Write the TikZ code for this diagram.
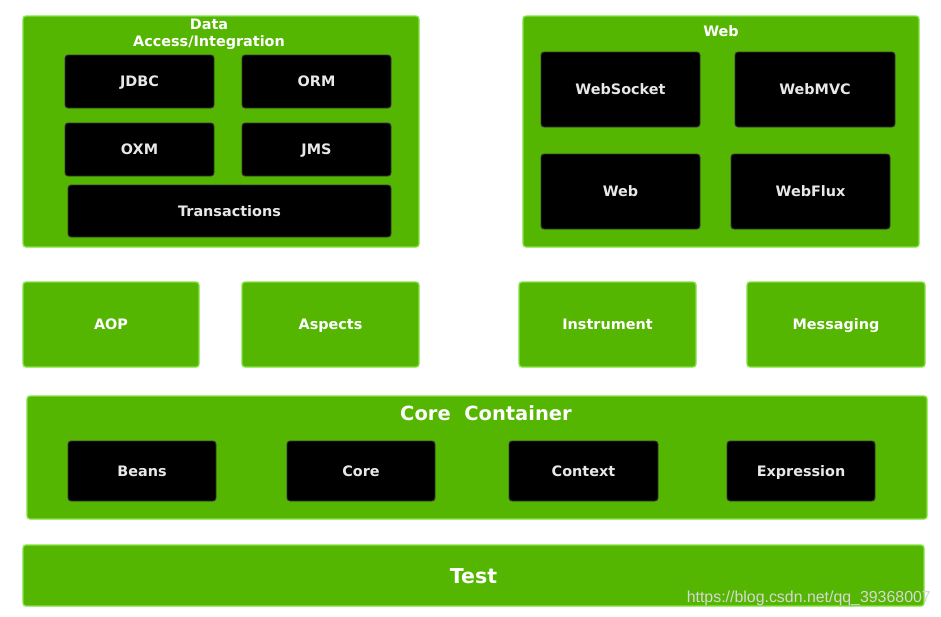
\documentclass[tikz,border=0pt]{standalone}
\usepackage{fontspec}
\setmainfont{DejaVu Sans}
\newfontfamily\wmfont{Liberation Sans}
\definecolor{sgreen}{RGB}{84,182,0}
\definecolor{sedge}{RGB}{132,228,70}
\definecolor{blkedge}{RGB}{55,55,55}
\definecolor{lbl}{RGB}{232,232,232}
\definecolor{wm}{RGB}{215,215,215}
\tikzset{
  grp/.style={draw=sedge, line width=1.3pt, fill=sgreen, rounded corners=3pt,
    anchor=north west, inner sep=0pt, outer sep=0pt, text=white,
    font=\fontsize{14.4}{17}\selectfont\bfseries, text height=10.5pt, text depth=0pt},
  blk/.style={draw=blkedge, line width=0.9pt, fill=black, rounded corners=3pt,
    anchor=north west, inner sep=0pt, outer sep=0pt, text=lbl,
    font=\fontsize{14.4}{17}\selectfont\bfseries, text height=10.5pt, text depth=0pt},
  gtitle/.style={text=white, inner sep=0pt, align=center,
    font=\fontsize{14.4}{17}\selectfont\bfseries},
}
\begin{document}
\begin{tikzpicture}[x=1pt,y=-1pt]
\useasboundingbox (0,0) rectangle (941,616);
\fill[white] (0,0) rectangle (941,616);

% Data Access/Integration
\node[grp, minimum width=396pt, minimum height=231pt] (dai) at (23,16) {};
\node[gtitle] (daititle) at (209,34.5) {Data\\Access/Integration};
\node[blk, minimum width=149pt, minimum height=53pt] (jdbc) at (65,55) {JDBC};
\node[blk, minimum width=149pt, minimum height=53pt] (orm) at (242,55) {ORM};
\node[blk, minimum width=149pt, minimum height=53pt] (oxm) at (65,123) {OXM};
\node[blk, minimum width=149pt, minimum height=53pt] (jms) at (242,123) {JMS};
\node[blk, minimum width=323pt, minimum height=52pt] (tx) at (68,185) {Transactions};

% Web
\node[grp, minimum width=396pt, minimum height=231pt] (webgrp) at (523,16) {};
\node[gtitle] (webtitle) at (721,31) {Web};
\node[blk, minimum width=159pt, minimum height=75pt] (websocket) at (541,52) {WebSocket};
\node[blk, minimum width=160pt, minimum height=75pt] (webmvc) at (735,52) {WebMVC};
\node[blk, minimum width=159pt, minimum height=75pt] (web) at (541,154) {Web};
\node[blk, minimum width=159pt, minimum height=75pt] (webflux) at (731,154) {WebFlux};

% Middle row
\node[grp, minimum width=176pt, minimum height=85pt] (aop) at (23,282) {AOP};
\node[grp, minimum width=177pt, minimum height=85pt] (aspects) at (242,282) {Aspects};
\node[grp, minimum width=177pt, minimum height=85pt] (instrument) at (519,282) {Instrument};
\node[grp, minimum width=178pt, minimum height=85pt] (messaging) at (747,282) {Messaging};

% Core Container
\node[grp, minimum width=900pt, minimum height=123pt] (cc) at (27,396) {};
\node[gtitle, font=\fontsize{19.5}{22}\selectfont\bfseries] (cctitle) at (486,413) {Core\ \ Container};
\node[blk, minimum width=148pt, minimum height=60pt] (beans) at (68,441) {Beans};
\node[blk, minimum width=148pt, minimum height=60pt] (core) at (287,441) {Core};
\node[blk, minimum width=149pt, minimum height=60pt] (context) at (509,441) {Context};
\node[blk, minimum width=148pt, minimum height=60pt] (expression) at (727,441) {Expression};

% Test
\node[grp, minimum width=901pt, minimum height=61pt,
  font=\fontsize{20.5}{24}\selectfont\bfseries, text height=15pt] (test) at (23,545) {Test};

% watermark
\node[anchor=base east, inner sep=0pt, text=wm, font=\wmfont\fontsize{15.9}{18}\selectfont] (wmark) at (931,602) {https://blog.csdn.net/qq\_39368007};
\end{tikzpicture}
\end{document}
